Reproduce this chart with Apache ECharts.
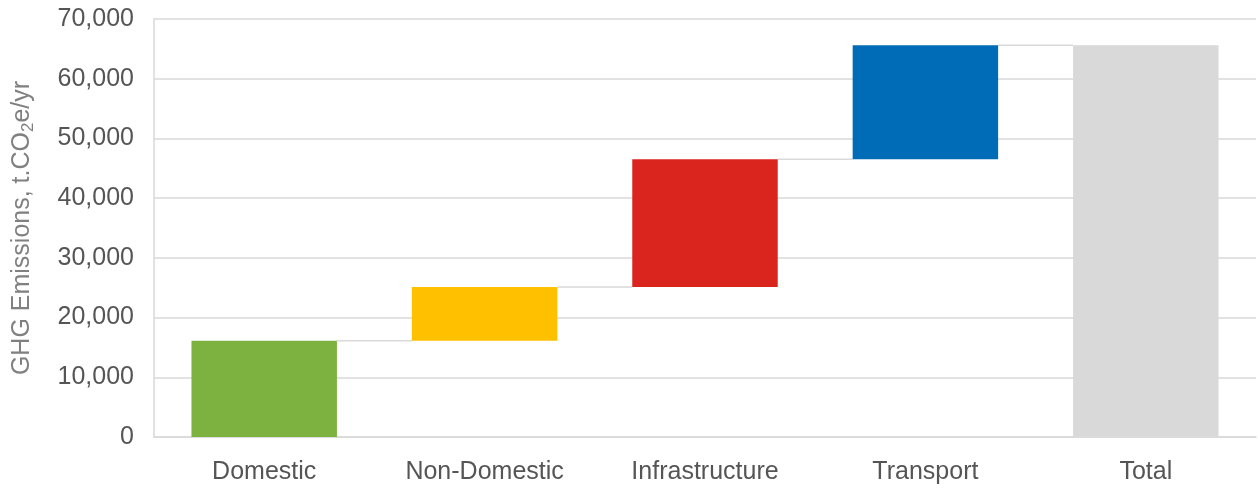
<!DOCTYPE html>
<html>
<head>
<meta charset="utf-8">
<script src="https://cdn.jsdelivr.net/npm/echarts@6/dist/echarts.min.js"></script>
<style>
  html, body { margin: 0; padding: 0; background: #fff; }
  #chart { width: 1258px; height: 488px; }
</style>
</head>
<body>
<div id="chart"></div>
<script>
// Sector contributions to annual GHG emissions (t CO2e/yr)
const categories = ['Domestic', 'Non-Domestic', 'Infrastructure', 'Transport', 'Total'];
const increments = [16100, 9000, 21400, 19100];
const barColors = ['#7DB240', '#FFC000', '#DA251E', '#006BB6', '#D9D9D9'];
const yTicks = { min: 0, max: 70000, interval: 10000 };

// Running totals give the floating base of each step and the final total
const bases = [];
const tops = [];
let running = 0;
increments.forEach(v => { bases.push(running); running += v; tops.push(running); });
const total = running;

const baseData = bases.concat([0]);
const valueData = increments.concat([total]).map((v, i) => ({
  value: v,
  itemStyle: { color: barColors[i] }
}));
// Connector lines from each bar's top to the next bar
const connectorData = tops.map((t, i) => [i, t]);

const FONT = 'Liberation Sans, Arial';
const BAR_FRAC = 0.66;
const chart = echarts.init(document.getElementById('chart'));
chart.setOption({
  animation: false,
  grid: { left: 154, right: 2, top: 19, bottom: 51, containLabel: false },
  xAxis: {
    type: 'category',
    data: categories,
    axisLine: { show: true, lineStyle: { color: '#D9D9D9', width: 1.5 } },
    axisTick: { show: false },
    axisLabel: { color: '#555555', fontFamily: FONT, fontSize: 25, margin: 23 }
  },
  yAxis: {
    type: 'value',
    min: yTicks.min, max: yTicks.max, interval: yTicks.interval,
    axisLine: { show: true, lineStyle: { color: '#D9D9D9', width: 1.5 } },
    axisTick: { show: false },
    splitLine: { lineStyle: { color: '#D9D9D9', width: 1.5 } },
    axisLabel: {
      color: '#555555', fontFamily: FONT, fontSize: 25, margin: 20,
      formatter: v => v.toLocaleString('en-US')
    },
    name: '{a|GHG Emissions, t.CO}{b|2}{a|e/yr}',
    nameLocation: 'middle',
    nameRotate: 90,
    nameGap: 117,
    nameTextStyle: {
      rich: {
        a: { color: '#808080', fontFamily: FONT, fontSize: 25, lineHeight: 30 },
        b: { color: '#808080', fontFamily: FONT, fontSize: 17, lineHeight: 30, verticalAlign: 'bottom', padding: [10, 0, 0, 0] }
      }
    }
  },
  series: [
    {
      type: 'bar', stack: 'w', barWidth: (BAR_FRAC * 100) + '%',
      itemStyle: { color: 'transparent' },
      silent: true,
      data: baseData
    },
    {
      type: 'bar', stack: 'w', barWidth: (BAR_FRAC * 100) + '%',
      data: valueData
    },
    {
      type: 'custom',
      silent: true,
      z: 1,
      data: connectorData,
      renderItem: (params, api) => {
        const p = api.coord([api.value(0), api.value(1)]);
        const band = api.size([1, 0])[0];
        const x1 = p[0] + band * BAR_FRAC / 2;
        const x2 = p[0] + band * (1 - BAR_FRAC / 2);
        return {
          type: 'line',
          shape: { x1: x1, y1: p[1], x2: x2, y2: p[1] },
          style: { stroke: '#D9D9D9', lineWidth: 1.5 }
        };
      }
    }
  ]
});
</script>
</body>
</html>
